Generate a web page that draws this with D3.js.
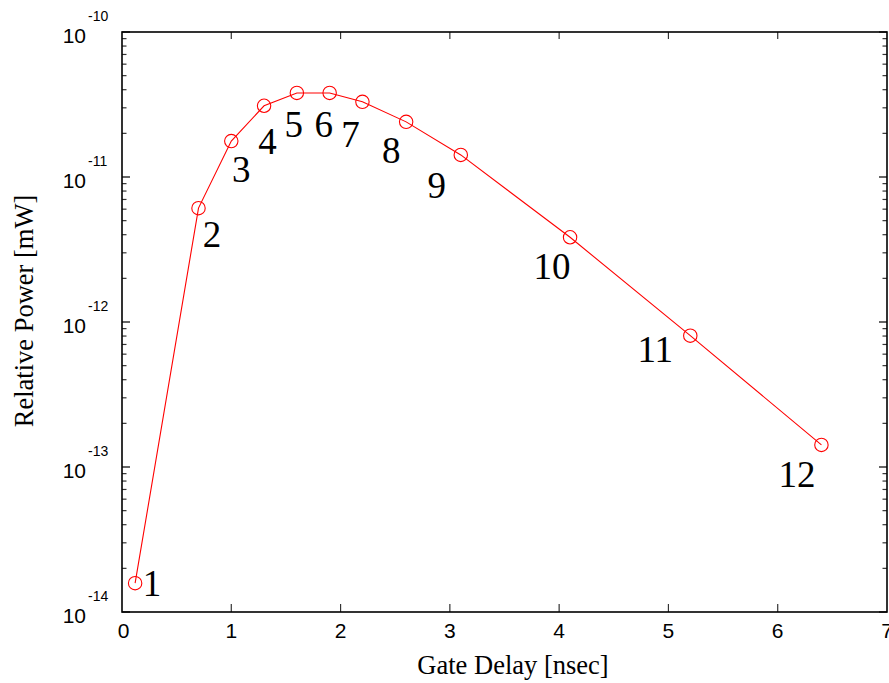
<!DOCTYPE html>
<html>
<head>
<meta charset="utf-8">
<script src="https://cdn.jsdelivr.net/npm/d3@7"></script>
<style>
  html, body { margin: 0; padding: 0; background: #fff; }
  svg { display: block; }
</style>
</head>
<body>
<svg id="chart" width="889" height="683"></svg>
<script>
// ---- data ----
const gateDelay = [0.12, 0.7, 1.0, 1.3, 1.6, 1.9, 2.2, 2.6, 3.1, 4.1, 5.2, 6.4];
const relPower  = [1.58e-14, 6.1e-12, 1.77e-11, 3.1e-11, 3.8e-11, 3.8e-11, 3.3e-11, 2.4e-11, 1.42e-11, 3.84e-12, 8.05e-13, 1.42e-13];
const pointLabels = ["1","2","3","4","5","6","7","8","9","10","11","12"];
const xTicks = [0, 1, 2, 3, 4, 5, 6, 7];
const yExponents = [-10, -11, -12, -13, -14];

// ---- layout (label offsets from each point, px) ----
const labelDX = [17, 13.5, 10, 3.5, -3, -6, -12, -15, -24, -18, -35, -24.5];
const labelDY = [13, 38.5, 40.7, 48, 44, 44.3, 45.3, 41.3, 43, 42, 26.3, 42];

const svg = d3.select("#chart");
const L = 122, R = 887, T = 32, B = 612;

const x = d3.scaleLinear().domain([0, 7]).range([L, R]);
const y = d3.scaleLog().domain([1e-14, 1e-10]).range([B, T]);

// minor ticks for log axis
const minorVals = [];
for (let e = -14; e < -10; e++) {
  for (let m = 2; m <= 9; m++) minorVals.push(m * Math.pow(10, e));
}
const majorVals = yExponents.map(e => Math.pow(10, e));

const g = svg.append("g");

// ticks (inward)
g.selectAll(".xtb").data(xTicks.slice(1, -1)).enter().append("line")
  .attr("x1", d => x(d)).attr("x2", d => x(d))
  .attr("y1", B).attr("y2", B - 8).attr("stroke", "#333").attr("stroke-width", 1.2);
g.selectAll(".xtt").data(xTicks.slice(1, -1)).enter().append("line")
  .attr("x1", d => x(d)).attr("x2", d => x(d))
  .attr("y1", T).attr("y2", T + 7).attr("stroke", "#333").attr("stroke-width", 1.2);
[[L, 1], [R, -1]].forEach(([x0, dir]) => {
  g.selectAll(null).data(majorVals).enter().append("line")
    .attr("x1", x0).attr("x2", x0 + dir * 8)
    .attr("y1", d => y(d)).attr("y2", d => y(d))
    .attr("stroke", "#000").attr("stroke-width", 1.2);
  g.selectAll(null).data(minorVals).enter().append("line")
    .attr("x1", x0).attr("x2", x0 + dir * 4.5)
    .attr("y1", d => y(d)).attr("y2", d => y(d))
    .attr("stroke", "#333").attr("stroke-width", 1.2);
});

// frame
g.append("rect").attr("x", L).attr("y", T).attr("width", R - L).attr("height", B - T)
  .attr("fill", "none").attr("stroke", "#000").attr("stroke-width", 1.6);

// x tick labels
g.selectAll(".xl").data(xTicks).enter().append("text")
  .attr("x", d => x(d) + (d === 0 ? 1.5 : 0)).attr("y", B + 26)
  .attr("text-anchor", "middle")
  .attr("font-family", "'Liberation Sans', Arial, sans-serif")
  .attr("font-size", 21).attr("fill", "#000")
  .text(d => d);

// y tick labels 10^e
const yl = g.selectAll(".yl").data(yExponents).enter().append("g");
yl.append("text")
  .attr("x", 86).attr("y", d => y(Math.pow(10, d)) + 10.5)
  .attr("text-anchor", "end")
  .attr("font-family", "'Liberation Sans', Arial, sans-serif")
  .attr("font-size", 21).attr("fill", "#000")
  .text("10");
yl.append("text")
  .attr("x", 88).attr("y", d => y(Math.pow(10, d)) - 11.5)
  .attr("text-anchor", "start")
  .attr("font-family", "'Liberation Sans', Arial, sans-serif")
  .attr("font-size", 14).attr("fill", "#000")
  .text(d => "-" + Math.abs(d));

// axis titles
svg.append("text")
  .attr("x", 513).attr("y", 674)
  .attr("text-anchor", "middle")
  .attr("font-family", "'Liberation Serif', 'Times New Roman', serif")
  .attr("font-size", 26.5).attr("fill", "#000")
  .text("Gate Delay [nsec]");
svg.append("text")
  .attr("transform", "translate(33,311) rotate(-90)")
  .attr("text-anchor", "middle")
  .attr("font-family", "'Liberation Serif', 'Times New Roman', serif")
  .attr("font-size", 26.5).attr("fill", "#000")
  .text("Relative Power [mW]");

// data
const pts = gateDelay.map((d, i) => ({ x: d, y: relPower[i], label: pointLabels[i], dx: labelDX[i], dy: labelDY[i] }));

const line = d3.line().x(d => x(d.x)).y(d => y(d.y));
g.append("path").datum(pts).attr("d", line)
  .attr("fill", "none").attr("stroke", "#ff0000").attr("stroke-width", 1.1);

g.selectAll(".pt").data(pts).enter().append("circle")
  .attr("cx", d => x(d.x)).attr("cy", d => y(d.y)).attr("r", 6.7)
  .attr("fill", "none").attr("stroke", "#ff0000").attr("stroke-width", 1.1);

g.selectAll(".pl").data(pts).enter().append("text")
  .attr("x", d => x(d.x) + d.dx).attr("y", d => y(d.y) + d.dy)
  .attr("text-anchor", "middle")
  .attr("font-family", "'Liberation Serif', 'Times New Roman', serif")
  .attr("font-size", 37).attr("fill", "#000")
  .text(d => d.label);
</script>
</body>
</html>
